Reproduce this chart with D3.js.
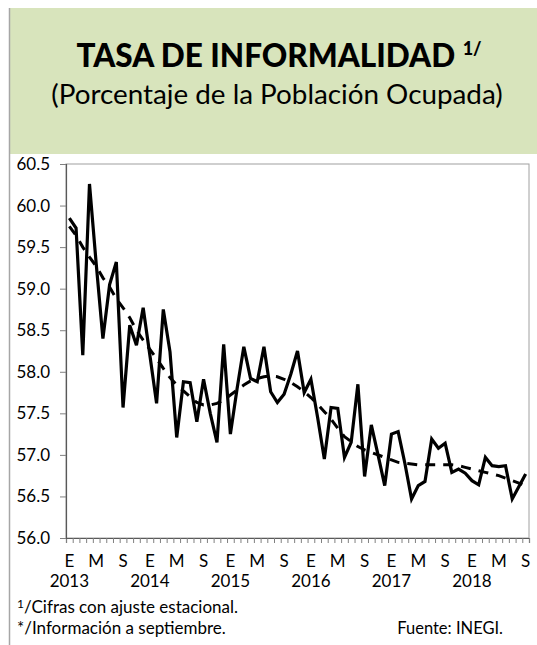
<!DOCTYPE html>
<html>
<head>
<meta charset="utf-8">
<script src="https://cdn.jsdelivr.net/npm/d3@7"></script>
<style>
  body { margin: 0; background: #fff; }
  svg { display: block; font-family: Lato, "Open Sans", sans-serif; }
</style>
</head>
<body>
<script>
// months Jan 2013 - Sep 2018, seasonally adjusted
var years = [2013, 2014, 2015, 2016, 2017, 2018];
var monthLetters = {0: "E", 4: "M", 8: "S"};
var yTicks = [56.0, 56.5, 57.0, 57.5, 58.0, 58.5, 59.0, 59.5, 60.0, 60.5];

var tasa = [
  59.85, 59.73, 58.20, 60.26, 59.30, 58.40, 59.05, 59.32, 57.57, 58.56, 58.32, 58.77,
  58.20, 57.62, 58.75, 58.24, 57.21, 57.88, 57.87, 57.40, 57.91, 57.50, 57.15, 58.33,
  57.25, 57.80, 58.30, 57.92, 57.88, 58.30, 57.76, 57.63, 57.73, 57.97, 58.25, 57.75,
  57.91, 57.45, 56.95, 57.57, 57.56, 56.97, 57.15, 57.85, 56.74, 57.36, 57.00, 56.63,
  57.25, 57.28, 56.90, 56.47, 56.63, 56.68, 57.19, 57.08, 57.14, 56.79, 56.83, 56.78,
  56.69, 56.64, 56.97, 56.87, 56.86, 56.87, 56.47, 56.62, 56.77
];

var tendencia = [
  59.75, 59.64, 59.50, 59.38, 59.27, 59.13, 59.02, 58.88, 58.77, 58.65, 58.50, 58.38,
  58.27, 58.16, 58.04, 57.93, 57.84, 57.77, 57.70, 57.63, 57.60, 57.60, 57.62, 57.66,
  57.72, 57.78, 57.84, 57.89, 57.92, 57.94, 57.95, 57.94, 57.91, 57.87, 57.82, 57.76,
  57.69, 57.61, 57.52, 57.43, 57.32, 57.22, 57.16, 57.10, 57.06, 57.03, 57.00, 56.97,
  56.94, 56.91, 56.90, 56.89, 56.88, 56.88, 56.88, 56.88, 56.88, 56.88, 56.87, 56.85,
  56.83, 56.81, 56.79, 56.77, 56.75, 56.72, 56.69, 56.66, 56.63
];

var W = 537, H = 645;
var plot = {left: 66, right: 529, top: 164, bottom: 538};

var svg = d3.select("body").append("svg")
  .attr("width", W)
  .attr("height", H);

// header band
svg.append("rect")
  .attr("x", 9).attr("y", 8)
  .attr("width", W - 9).attr("height", 146)
  .attr("fill", "#d8e4bc");

// left frame line
svg.append("line")
  .attr("x1", 9.5).attr("x2", 9.5)
  .attr("y1", 8).attr("y2", H)
  .attr("stroke", "#a6a6a6").attr("stroke-width", 1.5);

var title = svg.append("text")
  .attr("x", 279)
  .attr("y", 67)
  .attr("text-anchor", "middle")
  .style("font-weight", 900)
  .style("font-size", "31.5px")
  .attr("fill", "#000");
title.append("tspan").text("TASA DE INFORMALIDAD ");
title.append("tspan")
  .attr("dy", -12)
  .style("font-size", "18px")
  .text("1/");

svg.append("text")
  .attr("x", 277)
  .attr("y", 104)
  .attr("text-anchor", "middle")
  .style("font-size", "27.8px")
  .attr("fill", "#000")
  .text("(Porcentaje de la Población Ocupada)");

// scales
var n = tasa.length;
var xscale = d3.scaleLinear()
  .domain([0, n])
  .range([plot.left, plot.right]);

var yscale = d3.scaleLinear()
  .domain([56, 60.5])
  .range([plot.bottom, plot.top]);

// plot frame
svg.append("rect")
  .attr("x", plot.left).attr("y", plot.top)
  .attr("width", plot.right - plot.left)
  .attr("height", plot.bottom - plot.top)
  .attr("fill", "none")
  .attr("stroke", "#a0a0a0")
  .attr("stroke-width", 1);

// x axis, ticks between months
var xAxis = d3.axisBottom(xscale)
  .tickValues(d3.range(n + 1))
  .tickSize(5)
  .tickFormat("");

var gx = svg.append("g")
  .attr("transform", "translate(0," + plot.bottom + ")")
  .call(xAxis);
gx.select(".domain").attr("stroke", "#595959").attr("stroke-width", 1.2);
gx.selectAll(".tick line").attr("stroke", "#808080");

// y axis
var yAxis = d3.axisLeft(yscale)
  .tickValues(yTicks)
  .tickSize(6)
  .tickPadding(10)
  .tickFormat(d3.format(".1f"));

var gy = svg.append("g")
  .attr("transform", "translate(" + plot.left + ",0)")
  .call(yAxis);
gy.select(".domain").attr("stroke", "#595959").attr("stroke-width", 1.2);
gy.selectAll(".tick line").attr("stroke", "#808080");
gy.selectAll(".tick text")
  .style("font-family", "Lato, sans-serif")
  .style("font-size", "17px")
  .attr("fill", "#000");

// month letters
var monthIdx = d3.range(n).filter(function(i) { return monthLetters[i % 12] != undefined; });
svg.selectAll("text.month")
  .data(monthIdx)
  .enter()
  .append("text")
  .attr("class", "month")
  .attr("x", function(i) { return xscale(i + 0.5); })
  .attr("y", 567)
  .attr("text-anchor", "middle")
  .style("font-size", "17px")
  .text(function(i) { return monthLetters[i % 12]; });

// year labels under January
svg.selectAll("text.year")
  .data(years)
  .enter()
  .append("text")
  .attr("class", "year")
  .attr("x", function(d, i) { return xscale(i * 12 + 0.5); })
  .attr("y", 587)
  .attr("text-anchor", "middle")
  .style("font-size", "17px")
  .text(function(d) { return d; });

// lines
var line = d3.line()
  .x(function(d, i) { return xscale(i + 0.5); })
  .y(function(d) { return yscale(d); });

svg.append("path")
  .datum(tendencia)
  .attr("d", line)
  .attr("fill", "none")
  .attr("stroke", "#000")
  .attr("stroke-width", 3)
  .attr("stroke-dasharray", "10,8");

svg.append("path")
  .datum(tasa)
  .attr("d", line)
  .attr("fill", "none")
  .attr("stroke", "#000")
  .attr("stroke-width", 3.2);

// footnotes
var note1 = svg.append("text")
  .attr("x", 17)
  .attr("y", 613)
  .style("font-size", "17px");
note1.append("tspan")
  .attr("dy", -5)
  .style("font-size", "12px")
  .text("1");
note1.append("tspan")
  .attr("dy", 5)
  .text("/Cifras con ajuste estacional.");

svg.append("text")
  .attr("x", 17)
  .attr("y", 634)
  .style("font-size", "17px")
  .text("*/Información a septiembre.");

svg.append("text")
  .attr("x", 503)
  .attr("y", 634)
  .attr("text-anchor", "end")
  .style("font-size", "16.5px")
  .text("Fuente: INEGI.");
</script>
</body>
</html>
